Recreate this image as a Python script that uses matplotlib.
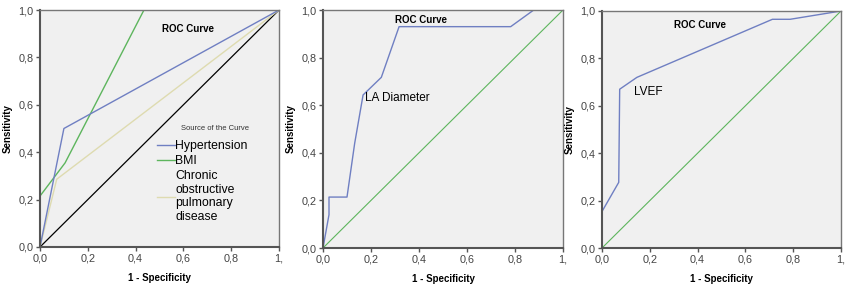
import matplotlib
matplotlib.use("Agg")
from matplotlib import pyplot as plt

plt.rcParams['font.family'] = ['Liberation Sans', 'DejaVu Sans']

# panel 1 curves
htn_x = [0.0, 0.10, 1.0]
htn_y = [0.0, 0.50, 1.0]
bmi_x = [0.0, 0.0, 0.105, 0.435, 1.0]
bmi_y = [0.0, 0.215, 0.355, 1.0, 1.0]
copd_x = [0.0, 0.07, 1.0]
copd_y = [0.0, 0.286, 1.0]

# panel 2 curve
la_x = [0.0, 0.025, 0.025, 0.10, 0.132, 0.167, 0.243, 0.317, 0.782, 0.878, 1.0]
la_y = [0.0, 0.14, 0.214, 0.214, 0.44, 0.643, 0.717, 0.93, 0.93, 1.0, 1.0]

# panel 3 curve
lvef_x = [0.0, 0.0, 0.07, 0.074, 0.146, 0.713, 0.787, 1.0]
lvef_y = [0.0, 0.154, 0.277, 0.67, 0.72, 0.965, 0.965, 1.0]

ticks = [0.0, 0.2, 0.4, 0.6, 0.8, 1.0]
tick_labels = ['0,0', '0,2', '0,4', '0,6', '0,8', '1,0']
xtick_labels = ['0,0', '0,2', '0,4', '0,6', '0,8', '1,']

BLUE = '#6f7fc2'
GREEN = '#5db55d'
BEIGE = '#dedbb0'


def style_axes(ax):
    ax.set_facecolor('#f0f0f0')
    ax.set_xlim(0, 1)
    ax.set_ylim(0, 1)
    ax.set_xticks(ticks)
    ax.set_xticklabels(xtick_labels)
    ax.set_yticks(ticks)
    ax.set_yticklabels(tick_labels)
    ax.tick_params(direction='out', length=3, width=1, colors='#555555',
                   labelsize=7.8, labelcolor='#444444', pad=1.5)
    for side in ['left', 'bottom']:
        ax.spines[side].set_color('#555555')
        ax.spines[side].set_linewidth(1.5)
    for side in ['top', 'right']:
        ax.spines[side].set_color('#777777')
        ax.spines[side].set_linewidth(1.0)
    ax.set_xlabel('1 - Specificity', fontsize=7, fontweight='bold', labelpad=7)
    ax.set_ylabel('Sensitivity', fontsize=7, fontweight='bold', labelpad=4)


fig = plt.figure(figsize=(8.5, 2.84), dpi=100)
ax1 = fig.add_axes([40 / 850, 37 / 284, 239 / 850, 237 / 284])
ax2 = fig.add_axes([323 / 850, 36 / 284, 240 / 850, 238 / 284])
ax3 = fig.add_axes([602 / 850, 36 / 284, 239 / 850, 237 / 284])

# first panel
style_axes(ax1)
ax1.plot([0, 1], [0, 1], color='black', lw=0.9)
ax1.plot(copd_x, copd_y, color=BEIGE, lw=1.0,
         label='Chronic\nobstructive\npulmonary\ndisease')
ax1.plot(bmi_x, bmi_y, color=GREEN, lw=1.0, label='BMI')
ax1.plot(htn_x, htn_y, color=BLUE, lw=1.0, label='Hypertension')
h, l = ax1.get_legend_handles_labels()
ax1.legend([h[2], h[1], h[0]], [l[2], l[1], l[0]],
           loc='upper left', bbox_to_anchor=(0.49, 0.45), borderpad=0,
           borderaxespad=0, frameon=False, fontsize=8.8, handlelength=1.45,
           handletextpad=0.05, labelspacing=0.22)
ax1.text(0.59, 0.50, 'Source of the Curve', fontsize=5.5, color='#333333',
         ha='left', va='center', transform=ax1.transAxes)
ax1.text(0.62, 0.92, 'ROC Curve', fontsize=7, fontweight='bold',
         ha='center', va='center', transform=ax1.transAxes)

# second panel
style_axes(ax2)
ax2.plot([0, 1], [0, 1], color=GREEN, lw=0.8)
ax2.plot(la_x, la_y, color=BLUE, lw=1.0)
ax2.text(0.175, 0.63, 'LA Diameter', fontsize=8.5, ha='left', va='center')
ax2.text(0.41, 0.96, 'ROC Curve', fontsize=7, fontweight='bold',
         ha='center', va='center')

# third panel
style_axes(ax3)
ax3.plot([0, 1], [0, 1], color=GREEN, lw=0.8)
ax3.plot(lvef_x, lvef_y, color=BLUE, lw=1.0)
ax3.text(0.135, 0.66, 'LVEF', fontsize=8.5, ha='left', va='center')
ax3.text(0.41, 0.94, 'ROC Curve', fontsize=7, fontweight='bold',
         ha='center', va='center')

fig.savefig('out.png', dpi=100, facecolor='white')
